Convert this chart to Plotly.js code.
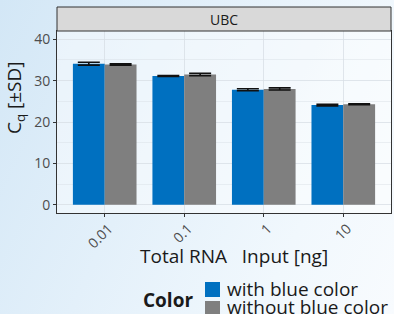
<!DOCTYPE html>
<html>
<head>
<meta charset="utf-8">
<script src="https://cdn.plot.ly/plotly-3.0.1.min.js"></script>
<style>
html,body{margin:0;padding:0;}
body{width:394px;height:314px;overflow:hidden;
background:linear-gradient(115deg,#d3e7f6 0%,#e3f0fa 40%,#f1f8fd 75%,#f8fbfe 100%);}
#chart{width:394px;height:314px;}
</style>
</head>
<body>
<div id="chart"></div>
<script>
const categories = ["0.01", "0.1", "1", "10"];
const withBlue = [34.1, 31.1, 27.8, 24.1];
const withBlueSD = [0.35, 0.1, 0.25, 0.2];
const withoutBlue = [33.9, 31.5, 28.0, 24.3];
const withoutBlueSD = [0.15, 0.3, 0.25, 0.1];
const seriesNames = ["with blue color", "without blue color"];
const seriesColors = ["#0070c0", "#7f7f7f"];
const legendTitle = "Color";
const panelLabel = "UBC";
const xTitle = "Total RNA\u00a0\u00a0\u00a0Input [ng]";
const yTitle = "C<sub>q</sub> [±SD]";

const font = "Open Sans, Noto Sans, sans-serif";
const errStyle = {type: "data", visible: true, color: "#111", thickness: 1.6, width: 11};

const traces = [
  {type: "bar", name: seriesNames[0], x: categories, y: withBlue,
   marker: {color: seriesColors[0]},
   error_y: Object.assign({array: withBlueSD}, errStyle)},
  {type: "bar", name: seriesNames[1], x: categories, y: withoutBlue,
   marker: {color: seriesColors[1]},
   error_y: Object.assign({array: withoutBlueSD}, errStyle)}
];

// plot area geometry (px) used to place titles and legend in paper units
const W = 394, H = 314, ML = 57, MR = 3, MT = 31, MB = 101;
const PW = W - ML - MR, PH = H - MT - MB;
const px = v => (v - ML) / PW;
const py = v => (H - MB - v) / PH;

const shapes = [{
  type: "rect", xref: "paper", yref: "paper",
  x0: 0, x1: 1, y0: 1, y1: 1 + 24 / PH,
  fillcolor: "#d9d9d9", line: {color: "#333", width: 1}
}];
const annotations = [{
  text: panelLabel, xref: "paper", yref: "paper", x: 0.5, y: 1 + 12 / PH,
  xanchor: "center", yanchor: "middle", showarrow: false,
  font: {size: 14, color: "#1a1a1a", family: font}
}, {
  text: xTitle, xref: "paper", yref: "paper", x: px(234), y: py(256),
  xanchor: "center", yanchor: "middle", showarrow: false,
  font: {size: 19, color: "#1a1a1a", family: font}
}, {
  text: yTitle, xref: "paper", yref: "paper", x: px(15), y: py(98), textangle: -90,
  xanchor: "center", yanchor: "middle", showarrow: false,
  font: {size: 19, color: "#1a1a1a", family: font}
}, {
  text: "<b>" + legendTitle + "</b>", xref: "paper", yref: "paper",
  x: px(141), y: py(300), xanchor: "left", yanchor: "middle", showarrow: false,
  font: {size: 19, color: "#1a1a1a", family: font}
}];
seriesNames.forEach((name, i) => {
  shapes.push({
    type: "rect", xref: "paper", yref: "paper",
    x0: px(205), x1: px(220), y0: py(282 + 19 * i), y1: py(297 + 19 * i),
    fillcolor: seriesColors[i], line: {width: 0}
  });
  annotations.push({
    text: name, xref: "paper", yref: "paper",
    x: px(225), y: py(289 + 18 * i), xanchor: "left", yanchor: "middle", showarrow: false,
    font: {size: 19, color: "#1a1a1a", family: font}
  });
});

const grid = "rgba(215,222,228,0.75)";
const layout = {
  width: W, height: H,
  margin: {l: ML, r: MR, t: MT, b: MB, pad: 0, autoexpand: false},
  paper_bgcolor: "rgba(0,0,0,0)",
  plot_bgcolor: "rgba(255,255,255,0.45)",
  barmode: "group", bargap: 0.2, bargroupgap: 0,
  font: {family: font, color: "#1a1a1a"},
  showlegend: false,
  xaxis: {
    type: "category", range: [-0.6, 3.6],
    showgrid: true, gridcolor: grid, gridwidth: 1,
    showline: true, mirror: true, linecolor: "#333", linewidth: 1,
    ticks: "outside", ticklen: 3, tickcolor: "#333",
    ticklabelstandoff: -2, ticklabelshift: 4,
    tickangle: -45, tickfont: {size: 14, color: "#4d4d4d", family: font},
    zeroline: false, automargin: false
  },
  yaxis: {
    range: [-2, 42], dtick: 10, tick0: 0,
    showgrid: true, gridcolor: grid, gridwidth: 1,
    minor: {dtick: 5, showgrid: true, gridcolor: grid, gridwidth: 0.6},
    showline: true, mirror: true, linecolor: "#333", linewidth: 1,
    ticks: "outside", ticklen: 3, tickcolor: "#333",
    tickfont: {size: 14, color: "#4d4d4d", family: font},
    zeroline: false, automargin: false
  },
  shapes: shapes,
  annotations: annotations
};

Plotly.newPlot("chart", traces, layout, {displayModeBar: false, staticPlot: true});
</script>
</body>
</html>
